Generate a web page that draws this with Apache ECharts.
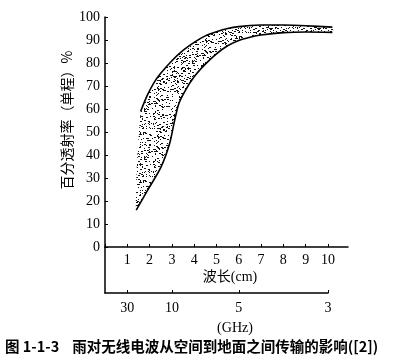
<!DOCTYPE html>
<html>
<head>
<meta charset="utf-8">
<script src="https://cdn.jsdelivr.net/npm/echarts@6/dist/echarts.min.js"></script>
<style>
html,body{margin:0;padding:0;background:#fff;}
#c{width:418px;height:358px;}
</style>
</head>
<body>
<div id="c"></div>
<script>
// Wavelength (cm) ticks and GHz labels
const cmTicks = [1, 2, 3, 4, 5, 6, 7, 8, 9, 10];
const ghzTicks = [30, 10, 5, 3];
// Band: upper boundary (wavelength cm, % transmission)
const upperX = [1.6, 1.9, 2.2, 2.5, 3.0, 3.5, 4.0, 4.5, 5.0, 5.5, 6.0, 7.0, 8.0, 9.0, 10.2];
const upperY = [59, 66, 71.5, 75.5, 81, 85.5, 89, 91.8, 93.6, 95, 95.8, 96.5, 96.5, 96.2, 95.6];
// Band: lower boundary
const lowerX = [1.4, 1.9, 2.5, 2.9, 3.1, 3.3, 3.6, 4.0, 4.5, 5.0, 5.5, 6.0, 6.5, 7.0, 8.0, 9.0, 10.2];
const lowerY = [16, 24.5, 34.5, 45, 54, 62, 68, 74, 79.5, 84, 87.5, 89.8, 91.2, 92.2, 93.2, 93.5, 93.3];

const SERIF = '"Liberation Serif", "Times New Roman", "Noto Sans CJK SC", serif';

// deterministic stipple texture
function makeStipple() {
  const cv = document.createElement('canvas');
  cv.width = 48; cv.height = 48;
  const ctx = cv.getContext('2d');
  ctx.fillStyle = '#ffffff';
  ctx.fillRect(0, 0, 48, 48);
  ctx.fillStyle = '#111111';
  let s = 12345;
  const next = () => { s = (s * 1103515245 + 12345) & 0x7fffffff; return s / 0x7fffffff; };
  for (let i = 0; i < 360; i++) {
    const x = Math.floor(next() * 48), y = Math.floor(next() * 48);
    const w = next() < 0.35 ? 2 : 1;
    ctx.fillRect(x, y, w, 1);
  }
  return cv;
}
const stipple = makeStipple();

const chart = echarts.init(document.getElementById('c'), null, {renderer: 'canvas'});
const ghzPos = ghzTicks.map(f => 30 / f);

chart.setOption({
  backgroundColor: '#ffffff',
  animation: false,
  grid: [
    {left: 105, top: 17, width: 243, height: 230},
    {left: 105, top: 247, width: 223, height: 46}
  ],
  xAxis: [
    {
      type: 'value', gridIndex: 0, min: 0, max: 10.9, interval: 1,
      axisLine: {show: true, onZero: false, lineStyle: {color: '#000', width: 1.5}},
      axisTick: {show: true, inside: true, length: 3, lineStyle: {color: '#000'}},
      axisLabel: {
        color: '#000', fontFamily: SERIF, fontSize: 14, margin: 6,
        formatter: v => (cmTicks.indexOf(v) >= 0 ? String(v) : ''),
        showMaxLabel: false
      },
      splitLine: {show: false}
    },
    {
      type: 'value', gridIndex: 1, min: 0, max: 10, position: 'bottom',
      axisLine: {show: true, onZero: false, lineStyle: {color: '#000', width: 1.5}},
      axisTick: {show: true, inside: true, length: 3, customValues: ghzPos, lineStyle: {color: '#000'}},
      axisLabel: {
        color: '#000', fontFamily: SERIF, fontSize: 14, margin: 8,
        customValues: ghzPos,
        formatter: v => { const i = ghzPos.findIndex(p => Math.abs(p - v) < 1e-6); return i >= 0 ? String(ghzTicks[i]) : ''; }
      },
      splitLine: {show: false}
    }
  ],
  yAxis: [
    {
      type: 'value', gridIndex: 0, min: 0, max: 100, interval: 10,
      axisLine: {show: true, lineStyle: {color: '#000', width: 1.5}},
      axisTick: {show: true, inside: true, length: 3, lineStyle: {color: '#000'}},
      axisLabel: {color: '#000', fontFamily: SERIF, fontSize: 14, margin: 5},
      splitLine: {show: false}
    },
    {
      type: 'value', gridIndex: 1, min: 0, max: 1,
      axisLine: {show: true, lineStyle: {color: '#000', width: 1.5}},
      axisTick: {show: false}, axisLabel: {show: false}, splitLine: {show: false}
    }
  ],
  series: [{
    type: 'custom',
    xAxisIndex: 0, yAxisIndex: 0,
    data: [[0, 0]],
    clip: false,
    renderItem: function (params, api) {
      const up = upperX.map((x, i) => api.coord([x, upperY[i]]));
      const lo = lowerX.map((x, i) => api.coord([x, lowerY[i]]));
      const poly = up.concat(lo.slice().reverse());
      return {
        type: 'group',
        children: [
          {type: 'polygon', shape: {points: poly, smooth: 0.25}, style: {fill: {image: stipple, repeat: 'repeat'}, stroke: null}},
          {type: 'polyline', shape: {points: up, smooth: 0.25}, style: {fill: null, stroke: '#000', lineWidth: 1.6}},
          {type: 'polyline', shape: {points: lo, smooth: 0.25}, style: {fill: null, stroke: '#000', lineWidth: 1.6}}
        ]
      };
    }
  }],
  graphic: [
    {type: 'text', x: 67, y: 120, rotation: Math.PI / 2, style: {
      text: '百分透射率（单程）%', fill: '#000', font: '14px "Noto Sans CJK SC", sans-serif',
      textAlign: 'center', textVerticalAlign: 'middle'}},
    {type: 'text', x: 230, y: 277, style: {
      text: '波长(cm)', fill: '#000', font: '14px ' + SERIF,
      textAlign: 'center', textVerticalAlign: 'middle'}},
    {type: 'text', x: 235, y: 328, style: {
      text: '(GHz)', fill: '#000', font: '14px ' + SERIF,
      textAlign: 'center', textVerticalAlign: 'middle'}},
    {type: 'text', x: 5, y: 346, style: {
      text: '图 1-1-3    雨对无线电波从空间到地面之间传输的影响([2])', fill: '#000',
      font: 'bold 14.5px "Noto Sans CJK SC", sans-serif',
      textAlign: 'left', textVerticalAlign: 'middle'}}
  ]
});
</script>
</body>
</html>
